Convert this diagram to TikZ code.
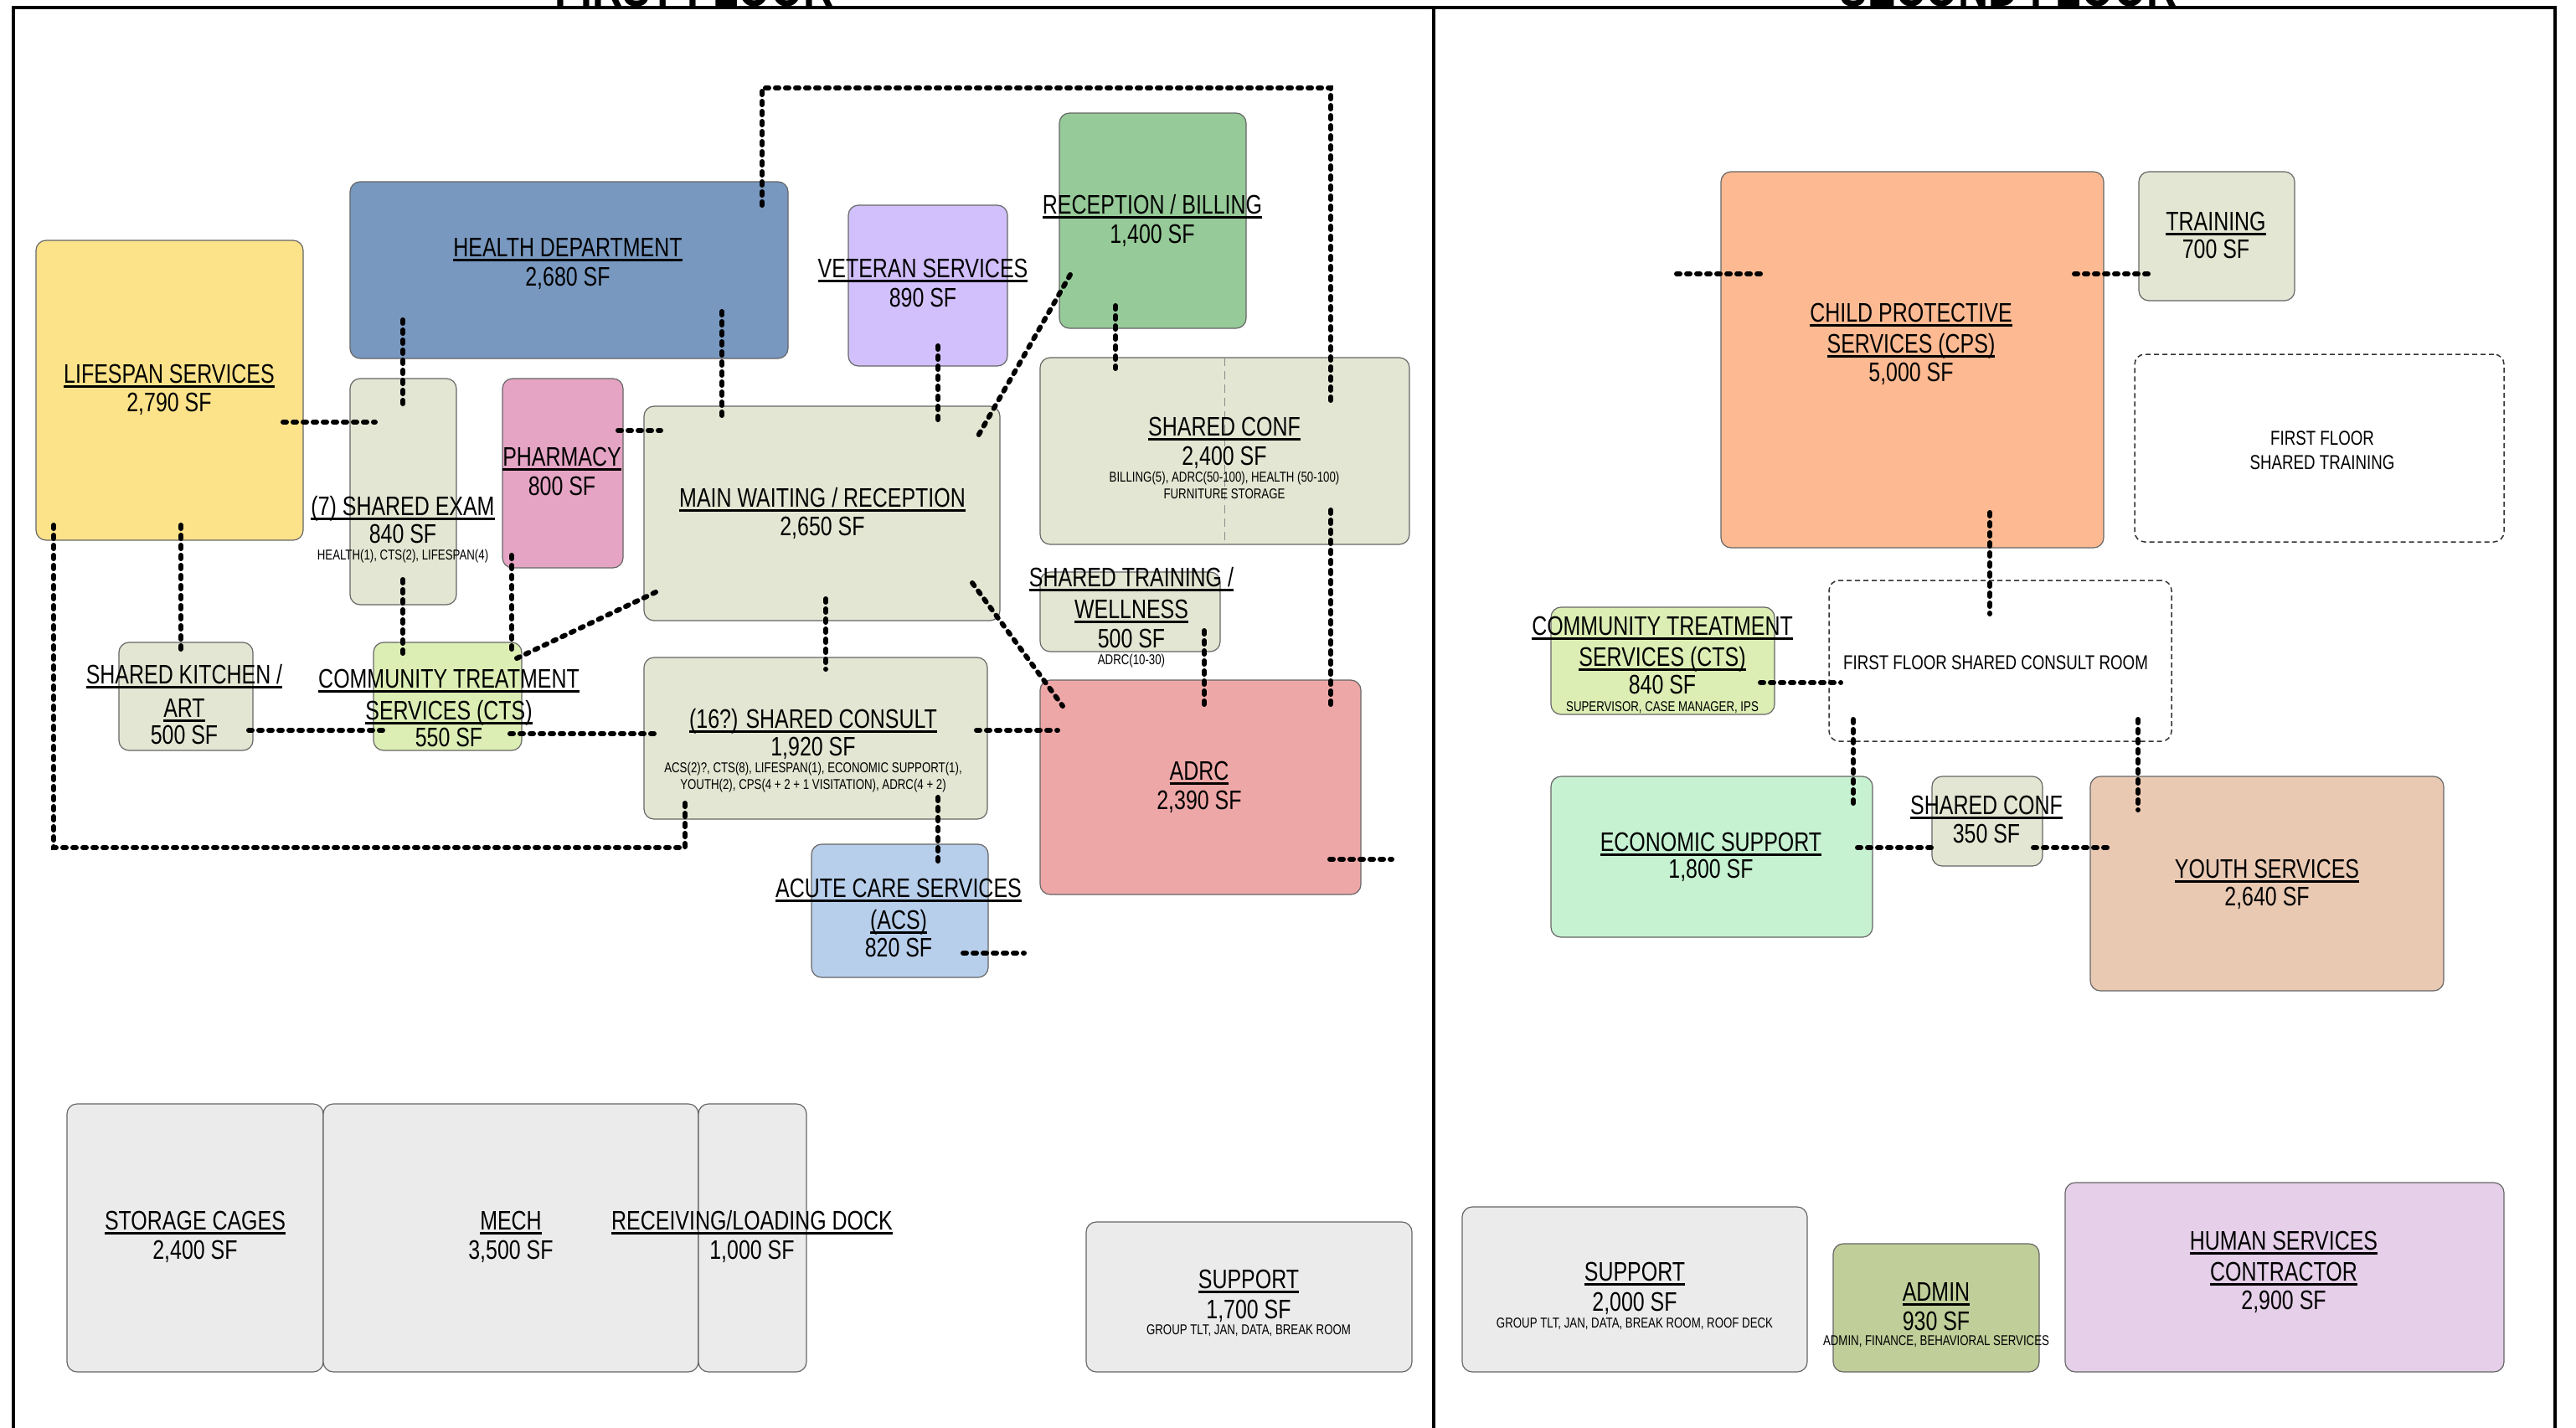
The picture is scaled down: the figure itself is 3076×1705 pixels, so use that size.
\documentclass[tikz,border=0pt]{standalone}
\usepackage{fontspec}
\setmainfont{Liberation Sans}[FakeStretch=0.78]
\definecolor{cHealth}{RGB}{120,152,192}
\definecolor{cLife}{RGB}{252,227,138}
\definecolor{cShared}{RGB}{227,230,210}
\definecolor{cPharm}{RGB}{229,164,196}
\definecolor{cVet}{RGB}{210,192,252}
\definecolor{cRec}{RGB}{150,202,152}
\definecolor{cCTS}{RGB}{220,238,180}
\definecolor{cACS}{RGB}{184,207,236}
\definecolor{cADRC}{RGB}{238,167,167}
\definecolor{cGray}{RGB}{235,235,235}
\definecolor{cCPS}{RGB}{253,186,146}
\definecolor{cEcon}{RGB}{198,242,210}
\definecolor{cYouth}{RGB}{234,201,179}
\definecolor{cAdmin}{RGB}{192,206,153}
\definecolor{cHSC}{RGB}{229,207,233}
\newcommand\ulx[1]{\setbox0\hbox{#1}\rlap{\rule[-6pt]{\wd0}{3.3pt}}\box0}
\newcounter{tl}
\newcommand\RoomTitle[3]{\stepcounter{tl}\node[ttl] (t\arabic{tl}) at (#1,#2) {\ulx{#3}};}
\newcommand\RoomArea[3]{\stepcounter{tl}\node[ttl] (t\arabic{tl}) at (#1,#2) {#3};}
\newcommand\RoomNote[3]{\stepcounter{tl}\node[note] (t\arabic{tl}) at (#1,#2) {#3};}
\newcommand\GhostText[3]{\stepcounter{tl}\node[ghosttxt] (t\arabic{tl}) at (#1,#2) {#3};}
\begin{document}
\begin{tikzpicture}[x=1pt,y=-1pt,
 room/.style={draw=black!60, line width=1.2pt, rounded corners=12pt, inner sep=0pt, outer sep=0pt},
 ghost/.style={draw=black!80, line width=1.5pt, dash pattern=on 6pt off 4pt, rounded corners=12pt, inner sep=0pt, outer sep=0pt},
 conn/.style={line width=6pt, line cap=round, dash pattern=on 4pt off 8pt, black},
 innerdash/.style={draw=black!45, line width=1pt, dash pattern=on 10pt off 6pt},
 ttl/.style={anchor=base, inner sep=0pt, font=\fontsize{32}{36}\selectfont},
 note/.style={anchor=base, inner sep=0pt, font=\fontsize{17}{19}\selectfont},
 ghosttxt/.style={anchor=base, inner sep=0pt, font=\fontsize{24}{28}\selectfont},
 floortitle/.style={anchor=base, inner sep=0pt, font=\fontsize{64}{70}\selectfont\bfseries},
 frameline/.style={line width=4pt, black}]
\useasboundingbox (0,0) rectangle (3076,1705);
\fill[white] (0,0) rectangle (3076,1705);

% floor titles (cut by the top edge, as in the reference)
\begin{scope}
\clip (0,0) rectangle (3076,9);
\node[floortitle] (ft1) at (829,7) {FIRST FLOOR};
\node[floortitle] (ft2) at (2398,7) {SECOND FLOOR};
\end{scope}

% frame
\draw[frameline] (16,1720) -- (16,9) -- (3051,9) -- (3051,1720);
\draw[frameline] (1712,9) -- (1712,1720);

% ---------- first floor rooms
\node[room,fill=cLife,minimum width=319pt,minimum height=358pt] (life) at (202.5,466) {};
\node[room,fill=cHealth,minimum width=523pt,minimum height=211pt] (hd) at (679.5,322.5) {};
\node[room,fill=cShared,minimum width=127pt,minimum height=270pt] (exam) at (481.5,587) {};
\node[room,fill=cPharm,minimum width=144pt,minimum height=226pt] (pharm) at (672,565) {};
\node[room,fill=cShared,minimum width=425pt,minimum height=256pt] (mw) at (981.5,613) {};
\node[room,fill=cVet,minimum width=190pt,minimum height=192pt] (vet) at (1108,341) {};
\node[room,fill=cRec,minimum width=223pt,minimum height=257pt] (rec) at (1376.5,263.5) {};
\node[room,fill=cShared,minimum width=441pt,minimum height=223pt] (conf) at (1462.5,538.5) {};
\node[room,fill=cShared,minimum width=160pt,minimum height=129pt] (kitch) at (222,831.5) {};
\node[room,fill=cCTS,minimum width=177pt,minimum height=129pt] (cts) at (534.5,831.5) {};
\node[room,fill=cShared,minimum width=410pt,minimum height=193pt] (consult) at (974,881.5) {};
\node[room,fill=cShared,minimum width=215pt,minimum height=95pt] (train) at (1349.5,730.5) {};
\node[room,fill=cADRC,minimum width=383pt,minimum height=256pt] (adrc) at (1433.5,940) {};
\node[room,fill=cACS,minimum width=211pt,minimum height=159pt] (acs) at (1074.5,1087.5) {};
\node[room,fill=cGray,minimum width=306pt,minimum height=320pt] (stor) at (233,1478) {};
\node[room,fill=cGray,minimum width=448pt,minimum height=320pt] (mech) at (610,1478) {};
\node[room,fill=cGray,minimum width=129pt,minimum height=320pt] (recv) at (898.5,1478) {};
\node[room,fill=cGray,minimum width=389pt,minimum height=179pt] (sup1) at (1491.5,1548.5) {};
\draw[innerdash] (conf.north) -- (conf.south);

% ---------- second floor rooms
\node[room,fill=cCPS,minimum width=457pt,minimum height=449pt] (cps) at (2283.5,429.5) {};
\node[room,fill=cShared,minimum width=186pt,minimum height=154pt] (trn) at (2647,282) {};
\node[ghost,minimum width=441pt,minimum height=224pt] (fftr) at (2769.5,535) {};
\node[room,fill=cCTS,minimum width=267pt,minimum height=128pt] (cts2) at (1985.5,789) {};
\node[ghost,minimum width=409pt,minimum height=192pt] (ffcr) at (2388.5,789) {};
\node[room,fill=cEcon,minimum width=384pt,minimum height=192pt] (econ) at (2044,1023) {};
\node[room,fill=cShared,minimum width=132pt,minimum height=107pt] (conf2) at (2373,980.5) {};
\node[room,fill=cYouth,minimum width=422pt,minimum height=256pt] (youth) at (2707,1055) {};
\node[room,fill=cGray,minimum width=412pt,minimum height=197pt] (sup2) at (1952,1539.5) {};
\node[room,fill=cAdmin,minimum width=246pt,minimum height=153pt] (admin) at (2312,1561.5) {};
\node[room,fill=cHSC,minimum width=524pt,minimum height=226pt] (hsc) at (2728,1525) {};

% free ends of stub connectors
\coordinate (adrcstub) at (1662,1026);
\coordinate (acsstub) at (1223,1138);
\coordinate (cpsstub) at (1998,327);

% ---------- first floor connectors
\draw[conn] ([shift={(295,217)}]life.north west) -- ([shift={(30,52)}]exam.north west);
\draw[conn] ([shift={(63,165)}]hd.north west) -- ([shift={(63,33)}]exam.north west);
\draw[conn] ([shift={(444,155)}]hd.north west) -- ([shift={(93,14)}]mw.north west);
\draw[conn] ([shift={(138,62)}]pharm.north west) -- ([shift={(20,29)}]mw.north west);
\draw[conn] ([shift={(492,28)}]hd.north west) -- ++(0,-140) -| ([shift={(347,57)}]conf.north west);
\draw[conn] ([shift={(347,182)}]conf.north west) -- ([shift={(347,29)}]adrc.north west);
\draw[conn] ([shift={(107,168)}]vet.north west) -- ([shift={(351,19)}]mw.north west);
\draw[conn] ([shift={(13,193)}]rec.north west) -- ([shift={(398,37)}]mw.north west);
\draw[conn] ([shift={(67,230)}]rec.north west) -- ([shift={(90,13)}]conf.north west);
\draw[conn] ([shift={(392,211)}]mw.north west) -- ([shift={(27,31)}]adrc.north west);
\draw[conn] ([shift={(217,230)}]mw.north west) -- ([shift={(217,14)}]consult.north west);
\draw[conn] ([shift={(397,87)}]consult.north west) -- ([shift={(21,60)}]adrc.north west);
\draw[conn] ([shift={(351,167)}]consult.north west) -- ([shift={(151,25)}]acs.north west);
\draw[conn] ([shift={(21,340)}]life.north west) -- ++(0,385) -| ([shift={(49,173)}]consult.north west);
\draw[conn] ([shift={(173,340)}]life.north west) -- ([shift={(74,13)}]kitch.north west);
\draw[conn] ([shift={(63,240)}]exam.north west) -- ([shift={(35,15)}]cts.north west);
\draw[conn] ([shift={(11,211)}]pharm.north west) -- ([shift={(165,13)}]cts.north west);
\draw[conn] ([shift={(171,19)}]cts.north west) -- ([shift={(14,222)}]mw.north west);
\draw[conn] ([shift={(155,105)}]kitch.north west) -- ([shift={(18,105)}]cts.north west);
\draw[conn] ([shift={(163,109)}]cts.north west) -- ([shift={(14,91)}]consult.north west);
\draw[conn] ([shift={(196,70)}]train.north west) -- ([shift={(196,29)}]adrc.north west);
\draw[conn] ([shift={(346,214)}]adrc.north west) -- (adrcstub);
\draw[conn] ([shift={(181,130)}]acs.north west) -- (acsstub);

% ---------- second floor connectors
\draw[conn] ([shift={(47,122)}]cps.north west) -- (cpsstub);
\draw[conn] ([shift={(422,122)}]cps.north west) -- ([shift={(13,122)}]trn.north west);
\draw[conn] ([shift={(321,407)}]cps.north west) -- ([shift={(192,40)}]ffcr.north west);
\draw[conn] ([shift={(250,90)}]cts2.north west) -- ([shift={(14,122)}]ffcr.north west);
\draw[conn] ([shift={(29,166)}]ffcr.north west) -- ([shift={(361,37)}]econ.north west);
\draw[conn] ([shift={(369,166)}]ffcr.north west) -- ([shift={(57,40)}]youth.north west);
\draw[conn] ([shift={(366,85)}]econ.north west) -- ([shift={(6,85)}]conf2.north west);
\draw[conn] ([shift={(121,85)}]conf2.north west) -- ([shift={(25,85)}]youth.north west);

% ---------- first floor texts
\RoomTitle{678}{306}{HEALTH DEPARTMENT}
\RoomArea{678}{341}{2,680 SF}
\RoomTitle{202}{457}{LIFESPAN SERVICES}
\RoomArea{202}{491}{2,790 SF}
\RoomTitle{481}{615}{(7) SHARED EXAM}
\RoomArea{481}{648}{840 SF}
\RoomNote{481}{668}{HEALTH(1), CTS(2), LIFESPAN(4)}
\RoomTitle{671}{556}{PHARMACY}
\RoomArea{671}{591}{800 SF}
\RoomTitle{982}{605}{MAIN WAITING / RECEPTION}
\RoomArea{982}{639}{2,650 SF}
\RoomTitle{1102}{331}{VETERAN SERVICES}
\RoomArea{1102}{366}{890 SF}
\RoomTitle{1376}{255}{RECEPTION / BILLING}
\RoomArea{1376}{290}{1,400 SF}
\RoomTitle{1462}{520}{SHARED CONF}
\RoomArea{1462}{555}{2,400 SF}
\RoomNote{1462}{575}{BILLING(5), ADRC(50-100), HEALTH (50-100)}
\RoomNote{1462}{595}{FURNITURE STORAGE}
\RoomTitle{1351}{700}{SHARED TRAINING /}
\RoomTitle{1351}{738}{WELLNESS}
\RoomArea{1351}{773}{500 SF}
\RoomNote{1351}{793}{ADRC(10-30)}
\RoomTitle{220}{816}{SHARED KITCHEN /}
\RoomTitle{220}{856}{ART}
\RoomArea{220}{888}{500 SF}
\RoomTitle{536}{821}{COMMUNITY TREATMENT}
\RoomTitle{536}{859}{SERVICES (CTS)}
\RoomArea{536}{891}{550 SF}
\RoomTitle{971}{869}{(16?) SHARED CONSULT}
\RoomArea{971}{902}{1,920 SF}
\RoomNote{971}{922}{ACS(2)?, CTS(8), LIFESPAN(1), ECONOMIC SUPPORT(1),}
\RoomNote{971}{942}{YOUTH(2), CPS(4 + 2 + 1 VISITATION), ADRC(4 + 2)}
\RoomTitle{1432}{931}{ADRC}
\RoomArea{1432}{966}{2,390 SF}
\RoomTitle{1073}{1071}{ACUTE CARE SERVICES}
\RoomTitle{1073}{1109}{(ACS)}
\RoomArea{1073}{1142}{820 SF}
\RoomTitle{233}{1468}{STORAGE CAGES}
\RoomArea{233}{1503}{2,400 SF}
\RoomTitle{610}{1468}{MECH}
\RoomArea{610}{1503}{3,500 SF}
\RoomTitle{898}{1468}{RECEIVING/LOADING DOCK}
\RoomArea{898}{1503}{1,000 SF}
\RoomTitle{1491}{1538}{SUPPORT}
\RoomArea{1491}{1574}{1,700 SF}
\RoomNote{1491}{1593}{GROUP TLT, JAN, DATA, BREAK ROOM}

% ---------- second floor texts
\RoomTitle{2282}{384}{CHILD PROTECTIVE}
\RoomTitle{2282}{421}{SERVICES (CPS)}
\RoomArea{2282}{455}{5,000 SF}
\RoomTitle{2646}{275}{TRAINING}
\RoomArea{2646}{308}{700 SF}
\GhostText{2773}{531}{FIRST FLOOR}
\GhostText{2773}{560}{SHARED TRAINING}
\RoomTitle{1985}{758}{COMMUNITY TREATMENT}
\RoomTitle{1985}{795}{SERVICES (CTS)}
\RoomArea{1985}{828}{840 SF}
\RoomNote{1985}{849}{SUPERVISOR, CASE MANAGER, IPS}
\GhostText{2383}{799}{FIRST FLOOR SHARED CONSULT ROOM}
\RoomTitle{2043}{1016}{ECONOMIC SUPPORT}
\RoomArea{2043}{1048}{1,800 SF}
\RoomTitle{2372}{972}{SHARED CONF}
\RoomArea{2372}{1006}{350 SF}
\RoomTitle{2707}{1048}{YOUTH SERVICES}
\RoomArea{2707}{1081}{2,640 SF}
\RoomTitle{1952}{1529}{SUPPORT}
\RoomArea{1952}{1565}{2,000 SF}
\RoomNote{1952}{1585}{GROUP TLT, JAN, DATA, BREAK ROOM, ROOF DECK}
\RoomTitle{2312}{1553}{ADMIN}
\RoomArea{2312}{1588}{930 SF}
\RoomNote{2312}{1606}{ADMIN, FINANCE, BEHAVIORAL SERVICES}
\RoomTitle{2727}{1492}{HUMAN SERVICES}
\RoomTitle{2727}{1529}{CONTRACTOR}
\RoomArea{2727}{1563}{2,900 SF}
\end{tikzpicture}
\end{document}
